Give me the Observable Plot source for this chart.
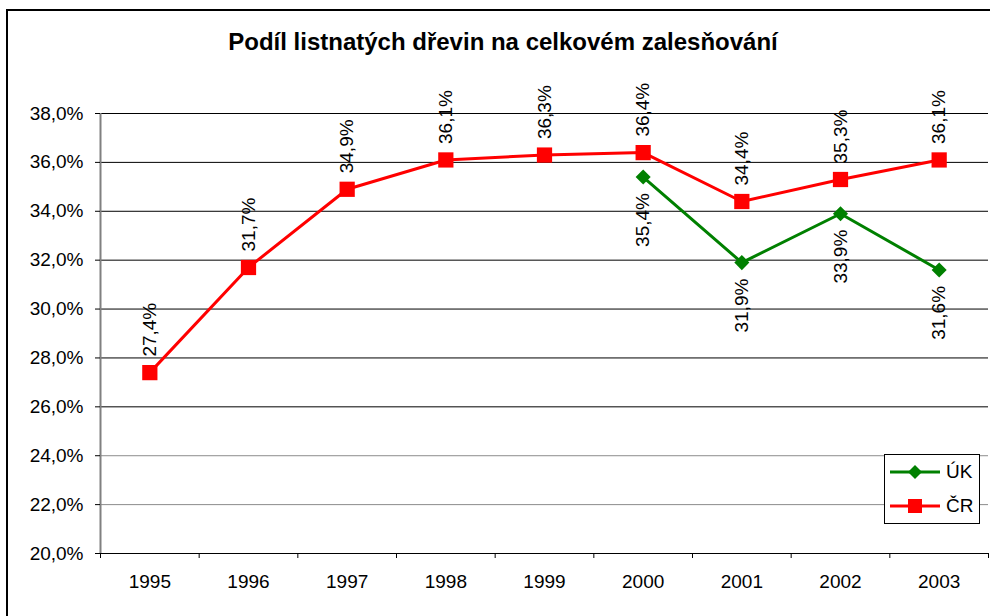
<!DOCTYPE html>
<html>
<head>
<meta charset="utf-8">
<script src="https://cdn.jsdelivr.net/npm/d3@7"></script>
<script src="https://cdn.jsdelivr.net/npm/@observablehq/plot@0.6"></script>
<style>
  html, body { margin: 0; padding: 0; background: #fff; }
  #wrap { position: relative; width: 990px; height: 616px; overflow: hidden; font-family: "Liberation Sans", Arial, sans-serif; }
  #border { position: absolute; left: 6px; top: 9px; width: 1000px; height: 700px; border-left: 2px solid #000; border-top: 2px solid #000; }
  #title { position: absolute; left: 0; width: 1006px; top: 28px; text-align: center; font-size: 24px; font-weight: bold; color: #000; }
  #legend { position: absolute; left: 884px; top: 454px; width: 94px; height: 68px; border: 1px solid #000; background: #fff; }
  .item { position: absolute; left: 4px; height: 20px; display: flex; align-items: center; font-size: 19px; }
  .item svg { margin-right: 5px; }
  #chart { position: absolute; left: 0; top: 0; }
</style>
</head>
<body>
<div id="wrap">
  <div id="chart"></div>
  <div id="border"></div>
  <div id="title"></div>
  <div id="legend"></div>
</div>
<script>
const titleText = "Podíl listnatých dřevin na celkovém zalesňování";
const years = [1995, 1996, 1997, 1998, 1999, 2000, 2001, 2002, 2003];
const crValues = [27.4, 31.7, 34.9, 36.1, 36.3, 36.4, 34.4, 35.3, 36.1];
const ukYears = [2000, 2001, 2002, 2003];
const ukValues = [35.4, 31.9, 33.9, 31.6];
const yTicks = [20, 22, 24, 26, 28, 30, 32, 34, 36, 38];
const seriesNames = ["ÚK", "ČR"];

const fmt = v => v.toFixed(1).replace(".", ",") + "%";
const cr = years.map((y, i) => ({year: y, value: crValues[i]}));
const uk = ukYears.map((y, i) => ({year: y, value: ukValues[i]}));
const bounds = years.map(y => y - 0.5).concat([years[years.length - 1] + 0.5]);

document.getElementById("title").textContent = titleText;

const RED = "#FF0000", GREEN = "#008000";

const chart = Plot.plot({
  width: 990,
  height: 616,
  marginTop: 113,
  marginBottom: 63,
  marginLeft: 100,
  marginRight: 2,
  style: {fontFamily: "'Liberation Sans', Arial, sans-serif", fontSize: "19px", color: "#000", background: "transparent", overflow: "visible"},
  x: {type: "linear", domain: [bounds[0], bounds[bounds.length - 1]], axis: null, label: null},
  y: {type: "linear", domain: [20, 38], axis: null, label: null},
  marks: [
    Plot.ruleY(yTicks, {stroke: d => d === 22 || d === 24 ? "#8c8c8c" : "#000", strokeWidth: 1}),
    Plot.ruleX([bounds[0]], {stroke: "#808080", strokeWidth: 2}),
    Plot.axisY(yTicks, {tickSize: 5, tickPadding: 12, tickFormat: fmt, fontSize: 19, stroke: "#000", label: null}),
    Plot.axisX(bounds, {tickSize: 5, tickFormat: () => "", stroke: "#000", label: null}),
    Plot.axisX(years, {tickSize: 0, tickPadding: 21, tickFormat: d => String(d), fontSize: 19, label: null}),
    Plot.line(cr, {x: "year", y: "value", stroke: RED, strokeWidth: 3}),
    Plot.line(uk, {x: "year", y: "value", stroke: GREEN, strokeWidth: 3}),
    Plot.dot(cr, {x: "year", y: "value", symbol: "square", r: 8.6, fill: RED, stroke: "none"}),
    Plot.dot(uk, {x: "year", y: "value", symbol: "diamond2", r: 6.8, fill: GREEN, stroke: "none"}),
    Plot.text(cr, {x: "year", y: "value", text: d => fmt(d.value), rotate: -90, textAnchor: "start", lineAnchor: "middle", dy: -16, fontSize: 19, fill: "#000"}),
    Plot.text(uk, {x: "year", y: "value", text: d => fmt(d.value), rotate: -90, textAnchor: "end", lineAnchor: "middle", dy: 16, fontSize: 19, fill: "#000"})
  ]
});
document.getElementById("chart").appendChild(chart);

// Legend
const legend = document.getElementById("legend");
const legendItems = [
  {name: seriesNames[0], color: GREEN, sym: "diamond"},
  {name: seriesNames[1], color: RED, sym: "square"}
];
legendItems.forEach((it, i) => {
  const div = document.createElement("div");
  div.className = "item";
  div.style.top = (7 + i * 34) + "px";
  const marker = it.sym === "square"
    ? `<rect x="19" y="3" width="14" height="14" fill="${it.color}"/>`
    : `<path d="M26,3 L33,10 L26,17 L19,10 Z" fill="${it.color}"/>`;
  div.innerHTML = `<svg width="52" height="20"><line x1="1" x2="51" y1="10" y2="10" stroke="${it.color}" stroke-width="3"/>${marker}</svg><span>${it.name}</span>`;
  legend.appendChild(div);
});
</script>
</body>
</html>
